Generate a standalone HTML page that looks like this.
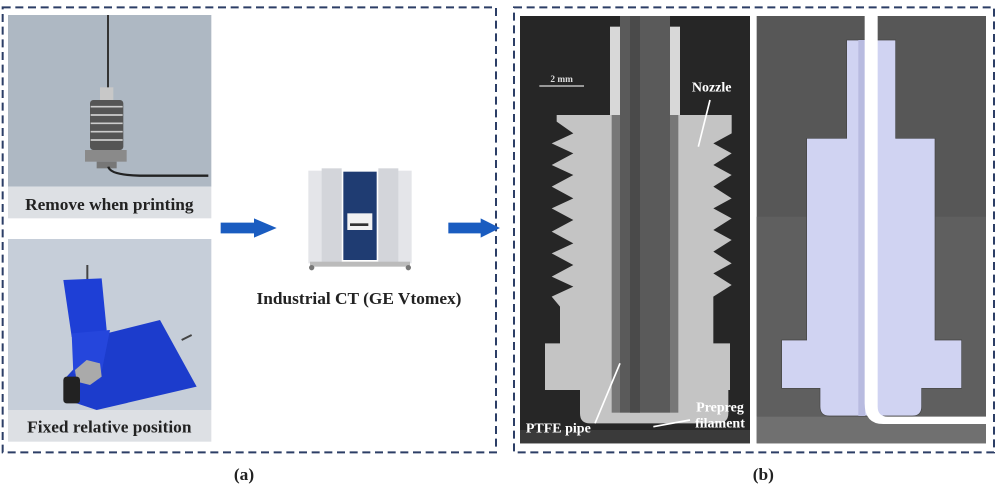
<!DOCTYPE html>
<html><head><meta charset="utf-8"><style>
html,body{margin:0;padding:0;background:#fff;width:1000px;height:487px;overflow:hidden}
svg{position:absolute;top:0}
text{font-family:"Liberation Serif",serif;font-weight:bold}
</style></head><body>
<svg style="left:0" width="500" height="487" viewBox="0 0 1500 1461">
<rect x="8" y="22" width="1480" height="1335" fill="none" stroke="#2c3e66" stroke-width="6" stroke-dasharray="24,14"/>
<!-- photo 1 -->
<rect x="24" y="45" width="610" height="515" fill="#aeb8c3"/>
<rect x="24" y="560" width="610" height="95" fill="#dde0e4"/>
<line x1="324" y1="45" x2="324" y2="270" stroke="#333" stroke-width="6"/>
<rect x="300" y="262" width="40" height="40" fill="#c8c8c8"/>
<g fill="#555">
<rect x="270" y="300" width="100" height="150" rx="10"/>
</g>
<g stroke="#ccc" stroke-width="5"><line x1="272" y1="320" x2="368" y2="320"/><line x1="272" y1="345" x2="368" y2="345"/><line x1="272" y1="370" x2="368" y2="370"/><line x1="272" y1="395" x2="368" y2="395"/><line x1="272" y1="420" x2="368" y2="420"/></g>
<rect x="255" y="450" width="125" height="35" fill="#8a8a8a"/>
<rect x="290" y="485" width="60" height="20" fill="#777"/>
<path d="M325 500 Q330 525 420 527 L625 527" fill="none" stroke="#222" stroke-width="7"/>
<text x="328" y="630" font-size="52" text-anchor="middle" fill="#222">Remove when printing</text>
<!-- photo 2 -->
<rect x="24" y="717" width="610" height="513" fill="#c6ced9"/>
<rect x="24" y="1230" width="610" height="95" fill="#dde0e4"/>
<line x1="262" y1="795" x2="262" y2="845" stroke="#444" stroke-width="6"/>
<line x1="545" y1="1020" x2="575" y2="1005" stroke="#444" stroke-width="6"/>
<path d="M190 840 L305 835 L320 990 L270 1100 L215 1010 Z" fill="#1e3fd6"/>
<path d="M320 1000 L480 960 L590 1160 L290 1230 L200 1200 L200 1130 Z" fill="#1c3ccc"/>
<path d="M215 1000 L330 990 L300 1140 L220 1120 Z" fill="#2546dc"/>
<polygon points="225,1110 260,1080 300,1090 305,1130 270,1155 230,1145" fill="#aaa"/>
<rect x="190" y="1130" width="50" height="80" rx="10" fill="#222"/>
<text x="328" y="1298" font-size="52" text-anchor="middle" fill="#222">Fixed relative position</text>
<!-- arrows -->
<polygon points="662,668 762,668 762,655 830,684 762,713 762,700 662,700" fill="#1a5cc0"/>
<polygon points="1345,668 1442,668 1442,655 1500,684 1442,713 1442,700 1345,700" fill="#1a5cc0"/>
<!-- CT machine -->
<rect x="925" y="512" width="100" height="278" fill="#e4e5e9"/>
<rect x="1135" y="512" width="100" height="278" fill="#e4e5e9"/>
<rect x="965" y="505" width="60" height="285" fill="#d3d5da"/>
<rect x="1135" y="505" width="60" height="285" fill="#d3d5da"/>
<rect x="1030" y="515" width="100" height="265" fill="#1f3c72"/>
<rect x="1042" y="640" width="75" height="50" fill="#f2f2f2"/>
<rect x="1050" y="670" width="55" height="8" fill="#333"/>
<rect x="930" y="785" width="300" height="15" fill="#bbb"/>
<circle cx="935" cy="803" r="8" fill="#777"/><circle cx="1225" cy="803" r="8" fill="#777"/>
<text x="1077" y="912" font-size="52" text-anchor="middle" fill="#222">Industrial CT (GE Vtomex)</text>
<text x="732" y="1440" font-size="52" text-anchor="middle" fill="#222">(a)</text>
</svg>
<svg style="left:510px" width="490" height="487" viewBox="0 0 1470 1461">
<rect x="12" y="22" width="1440" height="1335" fill="none" stroke="#2c3e66" stroke-width="6" stroke-dasharray="24,14"/>
<!-- CT -->
<rect x="30" y="48" width="690" height="1282" fill="#262626"/>
<path d="M140 345 L665 345 L665 400 L610 430 L665 460 L610 495 L665 525 L610 560 L665 595 L610 625 L665 655 L610 690 L665 720 L610 755 L665 790 L610 820 L665 855 L610 890 L610 1030 L660 1030 L660 1170 L655 1170 L655 1240 Q655 1270 620 1270 L240 1270 Q210 1270 210 1240 L210 1170 L105 1170 L105 1030 L150 1030 L150 920 L125 890 L190 860 L125 830 L190 795 L125 760 L190 730 L125 695 L190 660 L125 625 L190 595 L125 560 L190 525 L125 495 L190 460 L125 430 L190 400 L140 365 Z" fill="#c4c4c4"/>
<rect x="300" y="80" width="30" height="265" fill="#d8d8d8"/>
<rect x="480" y="80" width="30" height="265" fill="#d8d8d8"/>
<rect x="330" y="48" width="150" height="1190" fill="#5a5a5a"/>
<rect x="305" y="345" width="25" height="893" fill="#777"/>
<rect x="480" y="345" width="25" height="893" fill="#777"/>
<rect x="360" y="48" width="30" height="1190" fill="#4a4a4a"/>
<rect x="30" y="1290" width="690" height="40" fill="#3a3a3a"/>
<line x1="88" y1="258" x2="222" y2="258" stroke="#ddd" stroke-width="4"/>
<text x="155" y="246" font-size="28" fill="#ddd" text-anchor="middle" font-weight="normal">2 mm</text>
<text x="605" y="275" font-size="42" fill="#fff" text-anchor="middle">Nozzle</text>
<line x1="600" y1="300" x2="565" y2="440" stroke="#fff" stroke-width="5"/>
<text x="145" y="1297" font-size="42" fill="#fff" text-anchor="middle">PTFE pipe</text>
<line x1="255" y1="1270" x2="330" y2="1090" stroke="#fff" stroke-width="5"/>
<text x="630" y="1235" font-size="42" fill="#fff" text-anchor="middle">Prepreg</text>
<text x="630" y="1283" font-size="42" fill="#fff" text-anchor="middle">filament</text>
<line x1="540" y1="1260" x2="430" y2="1280" stroke="#fff" stroke-width="5"/>
<!-- CAD -->
<rect x="740" y="48" width="688" height="1282" fill="#575757"/>
<rect x="740" y="650" width="688" height="600" fill="#5f5f5f"/>
<rect x="740" y="1250" width="688" height="80" fill="#707070"/>
<path d="M1010 120 L1157 120 L1157 415 L1275 415 L1275 1020 L1355 1020 L1355 1165 L1235 1165 L1235 1220 Q1235 1248 1207 1248 L958 1248 Q930 1248 930 1220 L930 1165 L815 1165 L815 1020 L890 1020 L890 415 L1010 415 Z" fill="#d0d3f2" stroke="#444" stroke-width="2"/>
<rect x="1045" y="120" width="20" height="1128" fill="#b8bbe0"/>
<path d="M1064 48 L1103 48 L1103 1220 Q1103 1250 1133 1250 L1428 1250 L1428 1272 L1120 1272 Q1064 1272 1064 1210 Z" fill="#fff"/>
<text x="760" y="1440" font-size="52" text-anchor="middle" fill="#222">(b)</text>
</svg>
</body></html>
